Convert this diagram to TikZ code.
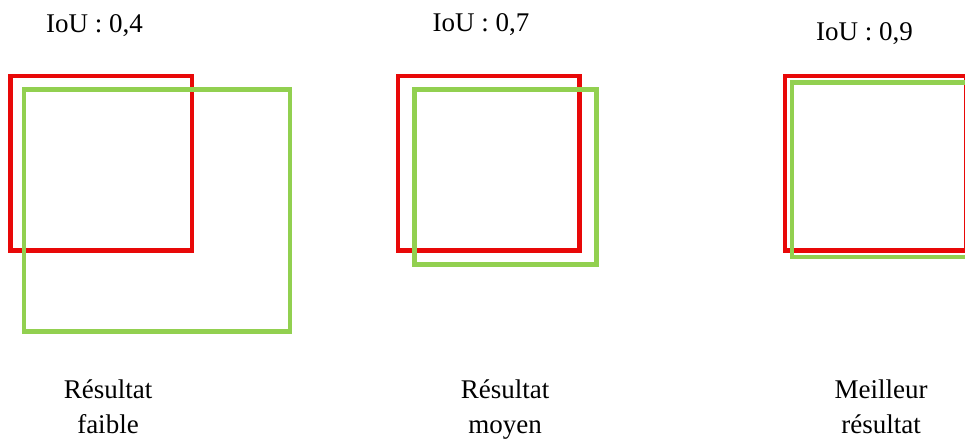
\documentclass[tikz,border=0pt]{standalone}
\usepackage{fontspec}
\setmainfont{Liberation Serif}
\definecolor{boxred}{RGB}{232,8,8}
\definecolor{boxgreen}{RGB}{146,208,80}
\tikzset{
  redbox/.style={draw=boxred, line width=4.4pt},
  greenbox/.style={draw=boxgreen, line width=4.4pt},
  title/.style={font=\fontsize{27}{32}\selectfont, anchor=base, inner sep=0pt},
  caption/.style={font=\fontsize{27}{35}\selectfont, anchor=north, align=center, inner sep=0pt},
}
\begin{document}
\begin{tikzpicture}[x=1pt,y=-1pt]
\useasboundingbox (0,0) rectangle (965,441);
\clip (0,0) rectangle (965,441);
% panel 1
\draw[redbox] (10.5,76) rectangle (192,250.5);
\draw[greenbox] (24,89.5) rectangle (290,331.5);
% panel 2
\draw[redbox] (398,76) rectangle (579.5,250.5);
\draw[greenbox] (414.3,89.7) rectangle (596.3,264.3);
% panel 3
\draw[redbox] (785,76) rectangle (966.5,250.5);
\draw[greenbox] (791.7,82.7) rectangle (973.7,257);
% titles
\node[title] (t1) at (94.5,32.3) {IoU : 0,4};
\node[title] (t2) at (481,32) {IoU : 0,7};
\node[title] (t3) at (864.5,40.7) {IoU : 0,9};
% captions
\node[caption] (c1) at (108,380) {Résultat\\faible};
\node[caption] (c2) at (505,380) {Résultat\\moyen};
\node[caption] (c3) at (881,380) {Meilleur\\résultat};
\end{tikzpicture}
\end{document}
